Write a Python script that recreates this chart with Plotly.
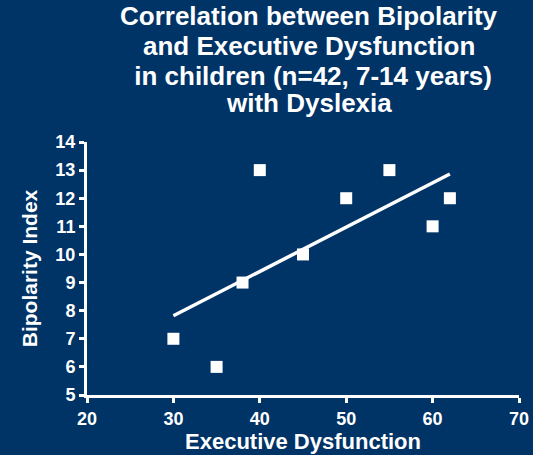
import plotly.graph_objects as go

# executive dysfunction score vs bipolarity index
exec_dys = [30, 35, 38, 40, 45, 50, 55, 60, 62]
bipolarity = [7, 6, 9, 13, 10, 12, 13, 11, 12]

# fitted regression line end points
fit_x = [30, 62]
fit_y = [7.82, 12.86]

title_lines = [
    "Correlation between Bipolarity",
    "and Executive Dysfunction",
    " in children (n=42, 7-14 years)",
    "with Dyslexia",
]

BG = "#003366"
WHITE = "#ffffff"
FONT = "Arial, Liberation Sans, sans-serif"

fig = go.Figure()
fig.add_trace(go.Scatter(x=fit_x, y=fit_y, mode="lines",
                         line=dict(color=WHITE, width=3.5), hoverinfo="skip"))
fig.add_trace(go.Scatter(x=exec_dys, y=bipolarity, mode="markers",
                         marker=dict(symbol="square", size=12, color=WHITE,
                                     line=dict(width=0))))

# title drawn line by line so the line spacing stays tight as in the original
line_y = [1.497, 1.378, 1.261, 1.154]
for txt, yy in zip(title_lines, line_y):
    fig.add_annotation(text=txt, xref="paper", yref="paper", x=0.514, y=yy,
                       xanchor="center", yanchor="middle", showarrow=False,
                       font=dict(family=FONT, size=26, color=WHITE, weight="bold"))

axis_common = dict(
    showgrid=False, zeroline=False, showline=True, linecolor=WHITE, linewidth=3,
    ticks="outside", tickcolor=WHITE, tickwidth=3, ticklen=5, automargin=False,
    tickfont=dict(family=FONT, size=18, color=WHITE, weight="bold"),
)

fig.update_layout(
    width=533, height=455,
    paper_bgcolor=BG, plot_bgcolor=BG,
    showlegend=False,
    margin=dict(l=87, r=14, t=142, b=60),
    font=dict(family=FONT, color=WHITE),
    xaxis=dict(axis_common, range=[20, 70], tickvals=[20, 30, 40, 50, 60, 70],
               title=dict(text="Executive Dysfunction", standoff=5,
                          font=dict(family=FONT, size=22, color=WHITE, weight="bold"))),
    yaxis=dict(axis_common, range=[5, 14], dtick=1,
               title=dict(text="Bipolarity Index", standoff=13,
                          font=dict(family=FONT, size=21, color=WHITE, weight="bold"))),
)

fig.write_html("out.html", config={"displayModeBar": False},
               post_script="document.body.style.margin='0';")
